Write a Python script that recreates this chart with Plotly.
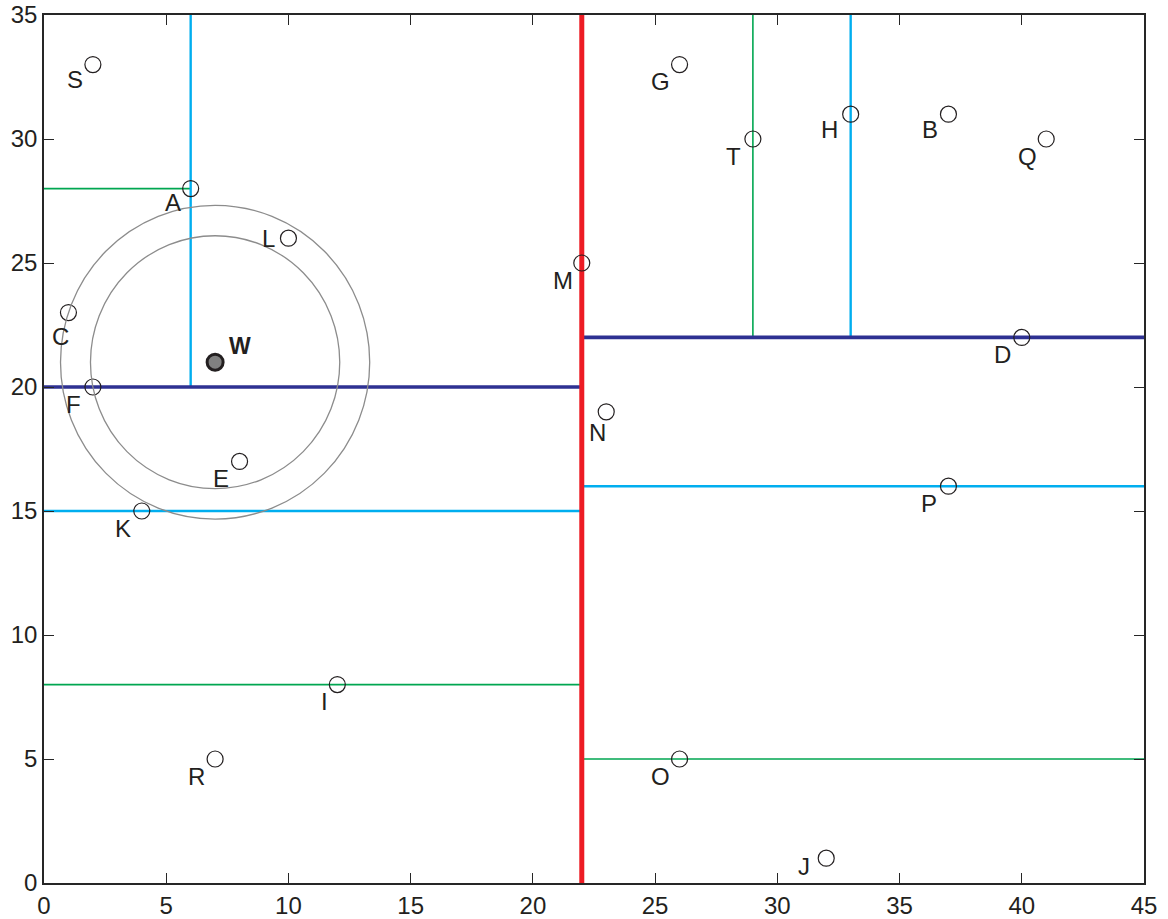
import math
import plotly.graph_objects as go

# Sample points
names = ["A", "B", "C", "D", "E", "F", "G", "H", "I", "J",
         "K", "L", "M", "N", "O", "P", "Q", "R", "S", "T"]
xs = [6, 37, 1, 40, 8, 2, 26, 33, 12, 32, 4, 10, 22, 23, 26, 37, 41, 7, 2, 29]
ys = [28, 31, 23, 22, 17, 20, 33, 31, 8, 1, 15, 26, 25, 19, 5, 16, 30, 5, 33, 30]

# Query point
query_name = "W"
query_x = 7
query_y = 21

# Splitting segments: (x_start, x_end, y_start, y_end) per level
split_lvl1 = [(22, 22, 0, 35)]                                 # root split
split_lvl2 = [(0, 22, 20, 20), (22, 45, 22, 22)]
split_lvl3 = [(6, 6, 20, 35), (0, 22, 15, 15), (22, 45, 16, 16), (33, 33, 22, 35)]
split_lvl4 = [(0, 6, 28, 28), (0, 22, 8, 8), (22, 45, 5, 5), (29, 29, 22, 35)]

x_ticks = [0, 5, 10, 15, 20, 25, 30, 35, 40, 45]
y_ticks = [0, 5, 10, 15, 20, 25, 30, 35]

FONT = "Liberation Sans, Arial, sans-serif"
INK = "#231f20"

fig = go.Figure()

level_styles = [
    (split_lvl4, "#00a651", 1.6),
    (split_lvl3, "#00aeef", 2.4),
    (split_lvl2, "#2e3192", 3.6),
    (split_lvl1, "#ed1c24", 5.0),
]
for segs, color, width in level_styles:
    for x0, x1, y0, y1 in segs:
        fig.add_trace(go.Scatter(x=[x0, x1], y=[y0, y1], mode="lines",
                                 line=dict(color=color, width=width),
                                 hoverinfo="skip", showlegend=False))

# Search rings around the query point, through F and C
pt = dict(zip(names, zip(xs, ys)))
ring_radii = [math.hypot(pt[n][0] - query_x, pt[n][1] - query_y) for n in ("F", "C")]
for r in ring_radii:
    fig.add_shape(type="circle", xref="x", yref="y",
                  x0=query_x - r, x1=query_x + r, y0=query_y - r, y1=query_y + r,
                  line=dict(color="#8c8c8c", width=1.3), layer="above")

fig.add_trace(go.Scatter(x=xs, y=ys, mode="markers",
                         marker=dict(symbol="circle-open", size=16,
                                     color=INK, line=dict(width=1.2)),
                         hoverinfo="skip", showlegend=False))
fig.add_trace(go.Scatter(x=[query_x], y=[query_y], mode="markers",
                         marker=dict(symbol="circle", size=16, color="#808080",
                                     line=dict(color="#231f20", width=3)),
                         hoverinfo="skip", showlegend=False))

# Label placement (pixel offsets right / down from the point)
default_off = (-19, 17)
label_off = {"C": (-8, 24), "L": (-20, 0), "N": (-9, 21), "J": (-22, 8),
             "I": (-13, 17), "S": (-18, 15), "H": (-21, 15), "B": (-18, 15),
             "A": (-18, 14)}
for n, x, y in zip(names, xs, ys):
    dx, dy = label_off.get(n, default_off)
    fig.add_annotation(x=x, y=y, text=n, showarrow=False,
                       xshift=dx, yshift=-dy, xanchor="center", yanchor="middle",
                       font=dict(family=FONT, size=24, color=INK))
fig.add_annotation(x=query_x, y=query_y, text="<b>W</b>", showarrow=False,
                   xshift=25, yshift=16, xanchor="center", yanchor="middle",
                   font=dict(family=FONT, size=23, color=INK))

axis_common = dict(showgrid=False, zeroline=False, showline=True, mirror="ticks",
                   linecolor="#262626", linewidth=1.5, ticks="inside", ticklen=10,
                   tickwidth=1.2, tickcolor="#262626", automargin=False,
                   tickfont=dict(family=FONT, size=24, color=INK))
fig.update_xaxes(range=[0, 45], tickvals=x_ticks, ticktext=[str(v) for v in x_ticks],
                 **axis_common)
fig.update_yaxes(range=[0, 35], tickvals=y_ticks, ticktext=[str(v) for v in y_ticks],
                 **axis_common)

fig.update_layout(width=1168, height=919, autosize=False,
                  margin=dict(l=44, r=24, t=15, b=36, pad=0),
                  plot_bgcolor="white", paper_bgcolor="white",
                  showlegend=False)

fig.write_html("out.html")
